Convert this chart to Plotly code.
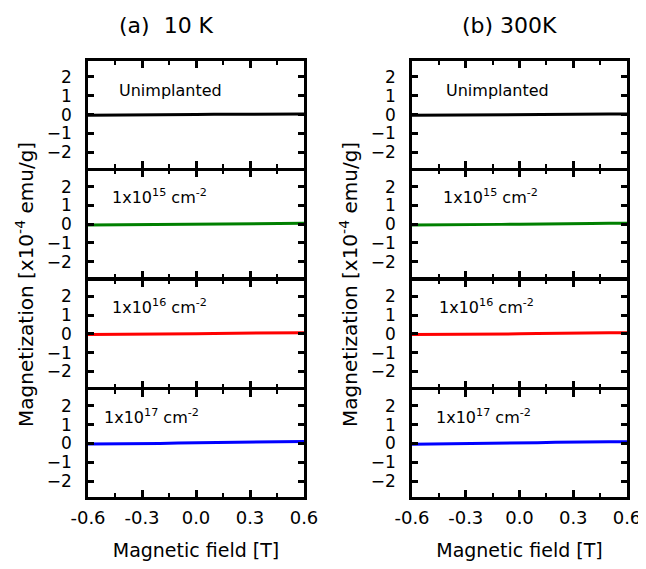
import plotly.graph_objects as go

field = [-0.6, -0.5, -0.4, -0.3, -0.2, -0.1, 0.0, 0.1, 0.2, 0.3, 0.4, 0.5, 0.6]

m10_unimpl = [-0.03, -0.03, -0.02, -0.02, -0.01, -0.02, 0.0, 0.01, 0.02, 0.02, 0.03, 0.03, 0.03]
m10_e15 = [-0.05, -0.04, -0.04, -0.03, -0.03, -0.01, 0.0, 0.02, 0.03, 0.03, 0.04, 0.04, 0.05]
m10_e16 = [-0.04, -0.04, -0.03, -0.02, -0.02, -0.01, 0.0, 0.02, 0.03, 0.04, 0.05, 0.05, 0.06]
m10_e17 = [-0.03, -0.03, -0.02, -0.01, 0.0, 0.02, 0.03, 0.05, 0.07, 0.08, 0.09, 0.10, 0.11]

m300_unimpl = [-0.04, -0.03, -0.03, -0.02, -0.01, -0.01, 0.0, 0.01, 0.02, 0.03, 0.03, 0.03, 0.03]
m300_e15 = [-0.05, -0.05, -0.04, -0.03, -0.02, -0.01, 0.0, 0.02, 0.03, 0.04, 0.04, 0.05, 0.05]
m300_e16 = [-0.04, -0.04, -0.03, -0.02, -0.01, -0.01, 0.0, 0.01, 0.03, 0.04, 0.05, 0.05, 0.06]
m300_e17 = [-0.05, -0.04, -0.04, -0.03, -0.02, 0.0, 0.02, 0.04, 0.06, 0.08, 0.09, 0.09, 0.09]

series_10K = [m10_unimpl, m10_e15, m10_e16, m10_e17]
series_300K = [m300_unimpl, m300_e15, m300_e16, m300_e17]
colors = ["#000000", "#008000", "#ff0000", "#0000ff"]
labels = ["Unimplanted", "1x10<sup>15</sup> cm<sup>-2</sup>",
          "1x10<sup>16</sup> cm<sup>-2</sup>", "1x10<sup>17</sup> cm<sup>-2</sup>"]
label_x_10K = [-0.44, -0.48, -0.48, -0.52]
label_x_300K = [-0.42, -0.44, -0.46, -0.48]
label_y = [1.3, 1.45, 1.45, 1.45]
col_titles = ["(a)  10 K", "(b) 300K"]
x_ticks = [-0.6, -0.3, 0.0, 0.3, 0.6]
x_ticktext = ["-0.6", "-0.3", "0.0", "0.3", "0.6"]
x_minor = [-0.45, -0.15, 0.15, 0.45]
y_ticks = [-2, -1, 0, 1, 2]

# figure sized so that, with the page's 8px body margin, no scrollbars appear
W, H = 638, 553
OFF = 8  # page body margin
col_px = [(88 - OFF, 304 - OFF), (412 - OFF, 627 - OFF)]
title_cx = [166 - OFF, 509 - OFF]
top_px, bot_px = 61 - OFF, 497 - OFF
LW = 2.5
panel_h = (bot_px - top_px - 3 * LW) / 4

FONT = "DejaVu Sans, Liberation Sans, sans-serif"
fig = go.Figure()
layout = {}
annotations = []
n = 0
for c, data in enumerate([series_10K, series_300K]):
    xd = [col_px[c][0] / W, col_px[c][1] / W]
    for r in range(4):
        n += 1
        y_top = top_px + r * (panel_h + LW)
        y_bot = y_top + panel_h
        yd = [1 - y_bot / H, 1 - y_top / H]
        xa = "xaxis" if n == 1 else f"xaxis{n}"
        ya = "yaxis" if n == 1 else f"yaxis{n}"
        xref = "x" if n == 1 else f"x{n}"
        yref = "y" if n == 1 else f"y{n}"
        fig.add_trace(go.Scatter(x=field, y=data[r], mode="lines",
                                 line=dict(color=colors[r], width=3),
                                 xaxis=xref, yaxis=yref, showlegend=False))
        layout[xa] = dict(domain=xd, anchor=yref, range=[-0.6, 0.6], automargin=False,
                          tickvals=x_ticks, ticktext=x_ticktext,
                          showticklabels=(r == 3), ticks="inside", ticklen=7,
                          tickwidth=2.5, tickcolor="black", showline=True, linewidth=LW,
                          linecolor="black", mirror="allticks", showgrid=False,
                          zeroline=False, ticklabelstandoff=3, ticklabeloverflow="allow",
                          tickfont=dict(size=18, color="black", family=FONT),
                          minor=dict(tickvals=x_minor, ticks="inside",
                                     ticklen=4, tickwidth=2, tickcolor="black"),
                          title=dict(text="Magnetic field [T]" if r == 3 else "",
                                     font=dict(size=19, color="black", family=FONT),
                                     standoff=20))
        layout[ya] = dict(domain=yd, anchor=xref, range=[-2.85, 2.85], automargin=False,
                          tickvals=y_ticks, ticks="inside", ticklen=6, tickwidth=2.5,
                          tickcolor="black", showline=True, linewidth=LW, linecolor="black",
                          mirror="allticks", showgrid=False, zeroline=False,
                          ticklabelstandoff=10,
                          tickfont=dict(size=17, color="black", family=FONT))
        xl = label_x_10K[r] if c == 0 else label_x_300K[r]
        annotations.append(dict(x=xl, y=label_y[r], xref=xref, yref=yref,
                                text=labels[r], showarrow=False, xanchor="left",
                                yanchor="middle",
                                font=dict(size=16, color="black", family=FONT)))
    annotations.append(dict(x=title_cx[c] / W, y=1 - (26 - OFF) / H, xref="paper",
                            yref="paper", text=col_titles[c], showarrow=False,
                            xanchor="center", yanchor="middle",
                            font=dict(size=22, color="black", family=FONT)))
    annotations.append(dict(x=(col_px[c][0] - 63) / W,
                            y=1 - ((top_px + bot_px) / 2 + 6) / H,
                            xref="paper", yref="paper",
                            text="Magnetization [x10<sup>-4</sup> emu/g]", textangle=-90,
                            showarrow=False, xanchor="center", yanchor="middle",
                            font=dict(size=20, color="black", family=FONT)))

fig.update_layout(**layout)
fig.update_layout(width=W, height=H, margin=dict(l=0, r=0, t=0, b=0),
                  paper_bgcolor="white", plot_bgcolor="white",
                  annotations=annotations, font=dict(family=FONT, color="black"))
fig.write_html("out.html")
